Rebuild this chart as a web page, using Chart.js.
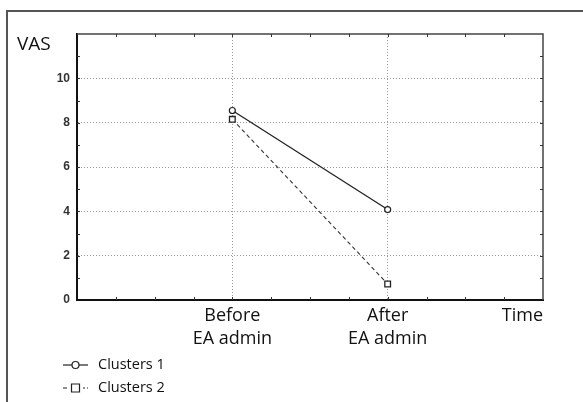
<!DOCTYPE html>
<html>
<head>
<meta charset="utf-8">
<script src="https://cdn.jsdelivr.net/npm/chart.js@4.4.1/dist/chart.umd.min.js"></script>
<style>
  body { margin: 0; background: #fff; }
  #wrap { position: relative; width: 583px; height: 402px; overflow: hidden; }
  #frame { position: absolute; left: 6px; top: 10px; right: -5px; bottom: -5px;
           border-left: 2px solid #555; border-top: 2px solid #555; }
  canvas { position: absolute; left: 0; top: 0; }
</style>
</head>
<body>
<div id="wrap">
  <div id="frame"></div>
  <canvas id="chart" width="583" height="402"></canvas>
</div>
<script>
// values
const categories = [['Before', 'EA admin'], ['After', 'EA admin']];
const clusters1 = [8.55, 4.08];
const clusters2 = [8.15, 0.72];
const seriesNames = ['Clusters 1', 'Clusters 2'];
const yTicks = [0, 2, 4, 6, 8, 10];
const yMax = 12;
const xTitle = 'Time';
const yTitle = 'VAS';

const font = "'Open Sans', 'Noto Sans', sans-serif";

function points(vals) {
    return vals.map((v, i) => ({ x: i + 1, y: v }));
}

// frame lines, minor ticks, titles and legend
const extras = {
    id: 'extras',
    afterDraw(chart) {
        const ctx = chart.ctx;
        const a = chart.chartArea;
        const xs = chart.scales.x, ys = chart.scales.y;
        ctx.save();
        // top and right edges of plot box
        ctx.strokeStyle = '#444';
        ctx.lineWidth = 1.5;
        ctx.beginPath();
        ctx.moveTo(a.left, a.top);
        ctx.lineTo(a.right, a.top);
        ctx.lineTo(a.right, a.bottom);
        ctx.stroke();

        // small inward ticks
        ctx.lineWidth = 1;
        ctx.strokeStyle = '#333';
        ctx.beginPath();
        for (let v = 0.25; v < xs.max; v += 0.25) {
            const px = Math.round(xs.getPixelForValue(v)) + 0.5;
            ctx.moveTo(px, a.bottom); ctx.lineTo(px, a.bottom - 3);
            ctx.moveTo(px, a.top); ctx.lineTo(px, a.top + 3);
        }
        for (let v = 1; v < yMax; v += 1) {
            const py = Math.round(ys.getPixelForValue(v)) + 0.5;
            ctx.moveTo(a.left, py); ctx.lineTo(a.left + 3, py);
            ctx.moveTo(a.right, py); ctx.lineTo(a.right - 3, py);
        }
        ctx.stroke();

        // titles
        ctx.fillStyle = '#111';
        ctx.font = '19px ' + font;
        ctx.textBaseline = 'middle';
        ctx.textAlign = 'left';
        ctx.fillText(yTitle, 17, 45);
        ctx.font = '18px ' + font;
        ctx.textAlign = 'right';
        ctx.fillText(xTitle, a.right, 316);

        // legend
        const ds = chart.data.datasets;
        ds.forEach((d, i) => {
            const y = 365 + i * 23;
            ctx.strokeStyle = '#222';
            ctx.lineWidth = 1.2;
            ctx.setLineDash(d.borderDash || []);
            ctx.beginPath();
            if (d.borderDash) {
                ctx.moveTo(63, y); ctx.lineTo(67, y);
                ctx.moveTo(83, y); ctx.lineTo(85, y);
                ctx.moveTo(87, y); ctx.lineTo(88, y);
            } else {
                ctx.moveTo(63, y); ctx.lineTo(88, y);
            }
            ctx.stroke();
            ctx.setLineDash([]);
            ctx.fillStyle = '#fff';
            ctx.beginPath();
            if (d.pointStyle === 'rect') {
                ctx.rect(71.5, y - 4, 8, 8);
            } else {
                ctx.arc(75.5, y, 3.5, 0, Math.PI * 2);
            }
            ctx.fill();
            ctx.stroke();
            ctx.fillStyle = '#111';
            ctx.font = '14.5px ' + font;
            ctx.textAlign = 'left';
            ctx.fillText(d.label, 98, y);
        });
        ctx.restore();
    }
};

new Chart(document.getElementById('chart').getContext('2d'), {
    type: 'scatter',
    data: {
        datasets: [{
            label: seriesNames[0],
            data: points(clusters1),
            showLine: true,
            borderColor: '#222',
            borderWidth: 1.3,
            pointStyle: 'circle',
            pointRadius: 3,
            pointBackgroundColor: '#fff',
            pointBorderColor: '#222',
            pointBorderWidth: 1.2,
        }, {
            label: seriesNames[1],
            data: points(clusters2),
            showLine: true,
            borderColor: '#333',
            borderWidth: 1.1,
            borderDash: [4, 3],
            pointStyle: 'rect',
            pointRadius: 4,
            pointBackgroundColor: '#fff',
            pointBorderColor: '#222',
            pointBorderWidth: 1.3,
        }]
    },
    options: {
        responsive: false,
        devicePixelRatio: 1,
        animation: false,
        layout: { padding: { left: 0, top: 34, right: 40, bottom: 0 } },
        plugins: { legend: { display: false }, tooltip: { enabled: false } },
        scales: {
            x: {
                type: 'linear',
                min: 0,
                max: categories.length + 1,
                afterFit: (s) => { s.height = 102; },
                ticks: {
                    stepSize: 1,
                    padding: 4,
                    color: '#111',
                    font: { family: font, size: 18, lineHeight: 1.28 },
                    callback: (v) => categories[v - 1] || ''
                },
                grid: {
                    drawTicks: false,
                    color: (c) => (c.tick && c.tick.value > 0 && c.tick.value <= categories.length) ? '#9a9a9a' : 'rgba(0,0,0,0)',
                    lineWidth: 1
                },
                border: { color: '#111', width: 2, dash: [1, 2] }
            },
            y: {
                min: 0,
                max: yMax,
                afterFit: (s) => { s.width = 77; },
                afterBuildTicks: (s) => { s.ticks = yTicks.concat([yMax]).map(v => ({ value: v })); },
                ticks: {
                    padding: 7,
                    color: '#333',
                    font: { family: "'Liberation Sans', Arial, sans-serif", size: 12, weight: 'bold' },
                    callback: (v) => yTicks.includes(v) ? v : ''
                },
                grid: {
                    drawTicks: false,
                    color: (c) => (c.tick && c.tick.value > 0 && c.tick.value < yMax) ? '#9a9a9a' : 'rgba(0,0,0,0)',
                    lineWidth: 1
                },
                border: { color: '#111', width: 2, dash: [1, 2] }
            }
        }
    },
    plugins: [extras]
});
</script>
</body>
</html>
